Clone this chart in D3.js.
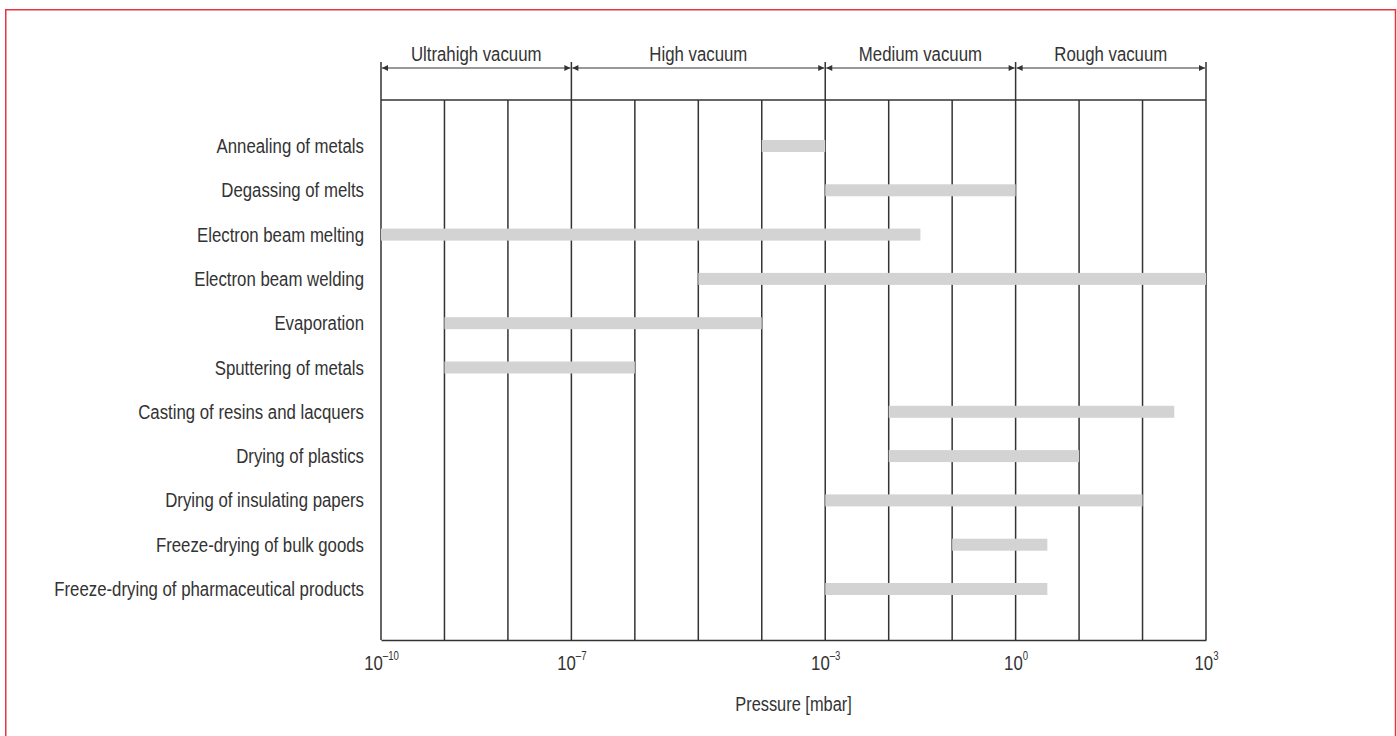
<!DOCTYPE html>
<html><head><meta charset="utf-8">
<script src="https://cdn.jsdelivr.net/npm/d3@7"></script>
<style>
html,body{margin:0;padding:0;background:#fff;}
svg text{font-family:"Liberation Sans","Arial",sans-serif;fill:#333;}
</style></head><body>
<svg id="chart" width="1397" height="736"></svg>
<script>
const categories = [
  "Annealing of metals",
  "Degassing of melts",
  "Electron beam melting",
  "Electron beam welding",
  "Evaporation",
  "Sputtering of metals",
  "Casting of resins and lacquers",
  "Drying of plastics",
  "Drying of insulating papers",
  "Freeze-drying of bulk goods",
  "Freeze-drying of pharmaceutical products"
];
// pressure ranges as exponents of 10 (mbar)
const rangeStart = [-4, -3, -10, -5, -9, -9, -2, -2, -3, -1, -3];
const rangeEnd   = [-3,  0, -1.5, 3, -4, -6, 2.5, 1, 2, 0.5, 0.5];
const tickExponents = [-10, -7, -3, 0, 3];
const regionNames = ["Ultrahigh vacuum", "High vacuum", "Medium vacuum", "Rough vacuum"];
const regionBounds = [-10, -7, -3, 0, 3];
const gridExponents = d3.range(-10, 4);

const svg = d3.select("#chart");
const W = 1397, H = 736;
const left = 381, right = 1206;
const headerTop = 100, plotBottom = 640;
const SX = 0.8; // condensed look

function ctext(parent, px, py, str, size, anchor) {
  return parent.append("text")
    .attr("transform", `translate(${px},${py}) scale(${SX},1)`)
    .attr("text-anchor", anchor).attr("font-size", size).text(str);
}

svg.append("rect").attr("x", 5.75).attr("y", 9.75).attr("width", 1389.75).attr("height", H)
  .attr("fill", "none").attr("stroke", "#e8343c").attr("stroke-width", 1.5);

const x = d3.scaleLog().domain([1e-10, 1e3]).range([left, right]);
const y = d3.scalePoint().domain(categories).range([146, 589]);

const lineColor = "#333";
const grid = svg.append("g");
grid.selectAll("line.grid").data(gridExponents).join("line")
  .attr("x1", d => x(Math.pow(10, d))).attr("x2", d => x(Math.pow(10, d)))
  .attr("y1", d => regionBounds.includes(d) ? 62 : headerTop).attr("y2", plotBottom)
  .attr("stroke", lineColor).attr("stroke-width", 1.5);
grid.append("line").attr("x1", left).attr("x2", right).attr("y1", headerTop).attr("y2", headerTop)
  .attr("stroke", lineColor).attr("stroke-width", 1.5);

// bottom axis
const axis = d3.axisBottom(x).tickValues(tickExponents.map(e => Math.pow(10, e))).tickSize(0).tickFormat("");
const axG = svg.append("g").attr("transform", `translate(0,${plotBottom})`).call(axis);
axG.select(".domain").attr("stroke", lineColor).attr("stroke-width", 1.5);
axG.selectAll(".tick").each(function(d, i) {
  const t = d3.select(this).append("text")
    .attr("transform", `translate(0,30) scale(${SX},1)`).attr("text-anchor", "middle")
    .attr("font-size", 21).attr("fill", "#333");
  t.append("tspan").text("10");
  const e = tickExponents[i];
  t.append("tspan").attr("dy", -10).attr("font-size", 12).text(e < 0 ? "\u2013" + Math.abs(e) : String(e));
});

// axis title
svg.append("text")
  .attr("transform", `translate(${(left + right) / 2},711) scale(0.78,1)`)
  .attr("text-anchor", "middle").attr("font-size", 21).text("Pressure [mbar]");

// bars
svg.append("g").selectAll("rect").data(categories).join("rect")
  .attr("x", (d, i) => x(Math.pow(10, rangeStart[i])))
  .attr("width", (d, i) => x(Math.pow(10, rangeEnd[i])) - x(Math.pow(10, rangeStart[i])))
  .attr("y", d => y(d) - 6).attr("height", 12)
  .attr("fill", "#d3d3d3");

// category labels
const lab = svg.append("g");
categories.forEach(c => ctext(lab, 364, y(c) + 7, c, 21, "end"));

// header regions with arrows
const defs = svg.append("defs");
defs.append("marker").attr("id", "arr").attr("viewBox", "0 0 10 10").attr("refX", 10).attr("refY", 5)
  .attr("markerWidth", 7).attr("markerHeight", 6).attr("markerUnits", "userSpaceOnUse").attr("orient", "auto-start-reverse")
  .append("path").attr("d", "M0,0 L10,5 L0,10 Z").attr("fill", lineColor);
const hdr = svg.append("g");
regionNames.forEach((name, i) => {
  const x0 = x(Math.pow(10, regionBounds[i])), x1 = x(Math.pow(10, regionBounds[i + 1]));
  hdr.append("line").attr("x1", x0 + 1).attr("x2", x1 - 1).attr("y1", 68).attr("y2", 68)
    .attr("stroke", lineColor).attr("stroke-width", 1.2)
    .attr("marker-start", "url(#arr)").attr("marker-end", "url(#arr)");
  ctext(hdr, (x0 + x1) / 2, 61, name, 21, "middle");
});
</script>
</body></html>
